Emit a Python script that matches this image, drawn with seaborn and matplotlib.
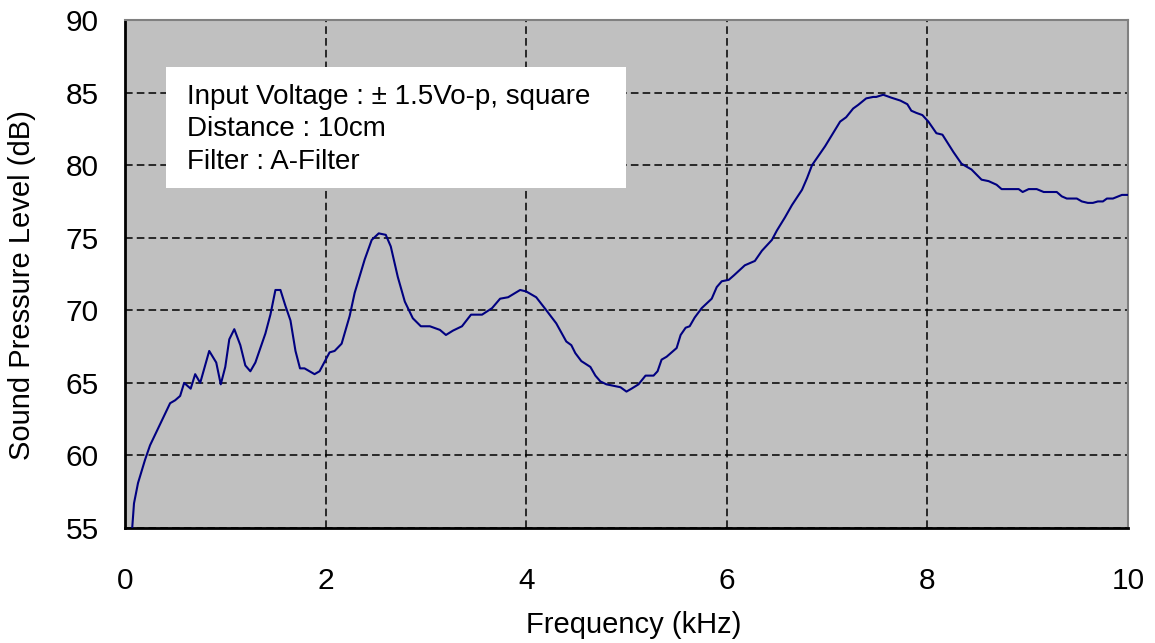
import matplotlib
matplotlib.use("Agg")
import pandas as pd
import seaborn as sns
import matplotlib.pyplot as plt
from matplotlib.patches import Rectangle

# frequency response
freq_khz = [0.07, 0.09, 0.13, 0.20, 0.25, 0.45, 0.50, 0.55, 0.59, 0.655, 0.70, 0.75,
            0.84, 0.91, 0.955, 1.00, 1.04, 1.09, 1.15, 1.20, 1.25, 1.30, 1.40, 1.45,
            1.50, 1.55, 1.60, 1.65, 1.70, 1.745, 1.79, 1.89, 1.94, 2.04, 2.09, 2.16,
            2.24, 2.29, 2.39, 2.46, 2.53, 2.60, 2.65, 2.72, 2.79, 2.87, 2.95, 3.04,
            3.14, 3.20, 3.27, 3.36, 3.45, 3.56, 3.66, 3.74, 3.82, 3.94, 4.00, 4.10,
            4.19, 4.30, 4.40, 4.45, 4.49, 4.55, 4.64, 4.69, 4.74, 4.80, 4.87, 4.94,
            5.00, 5.05, 5.12, 5.19, 5.27, 5.31, 5.35, 5.40, 5.45, 5.50, 5.54, 5.59,
            5.63, 5.68, 5.75, 5.85, 5.90, 5.95, 6.02, 6.07, 6.18, 6.28, 6.35, 6.45,
            6.50, 6.58, 6.65, 6.75, 6.80, 6.85, 6.98, 7.05, 7.13, 7.19, 7.26, 7.31,
            7.39, 7.46, 7.49, 7.56, 7.64, 7.73, 7.80, 7.84, 7.89, 7.95, 8.01, 8.09,
            8.15, 8.26, 8.34, 8.44, 8.54, 8.61, 8.69, 8.74, 8.91, 8.95, 9.01, 9.09,
            9.16, 9.29, 9.34, 9.39, 9.49, 9.54, 9.60, 9.65, 9.70, 9.75, 9.79, 9.85,
            9.94, 10.0]
spl_db = [54.8, 56.7, 58.1, 59.7, 60.7, 63.6, 63.8, 64.1, 65.0, 64.6, 65.6, 65.0,
          67.2, 66.4, 64.9, 66.1, 68.0, 68.7, 67.6, 66.2, 65.8, 66.4, 68.4, 69.7,
          71.4, 71.4, 70.3, 69.3, 67.2, 66.0, 66.0, 65.6, 65.8, 67.1, 67.2, 67.7,
          69.6, 71.2, 73.5, 74.85, 75.3, 75.2, 74.4, 72.3, 70.6, 69.45, 68.9, 68.9,
          68.65, 68.3, 68.6, 68.9, 69.7, 69.7, 70.15, 70.8, 70.9, 71.4, 71.3, 70.9,
          70.1, 69.1, 67.85, 67.6, 67.05, 66.5, 66.1, 65.5, 65.1, 64.9, 64.8, 64.7,
          64.4, 64.6, 64.9, 65.5, 65.5, 65.8, 66.6, 66.8, 67.1, 67.4, 68.3, 68.8,
          68.9, 69.5, 70.15, 70.8, 71.6, 72.0, 72.1, 72.4, 73.1, 73.4, 74.1, 74.85,
          75.5, 76.4, 77.25, 78.3, 79.1, 80.0, 81.3, 82.1, 83.0, 83.3, 83.9, 84.15,
          84.6, 84.7, 84.7, 84.85, 84.65, 84.45, 84.2, 83.75, 83.6, 83.45, 83.0, 82.2,
          82.1, 80.9, 80.1, 79.7, 79.0, 78.9, 78.65, 78.35, 78.35, 78.15, 78.35, 78.35,
          78.15, 78.15, 77.85, 77.7, 77.7, 77.5, 77.4, 77.4, 77.5, 77.5, 77.7, 77.7,
          77.95, 77.95]

x_ticks = [0, 2, 4, 6, 8, 10]
y_ticks = [55, 60, 65, 70, 75, 80, 85, 90]
info_lines = ["Input Voltage : \u00b1 1.5Vo-p, square", "Distance : 10cm", "Filter : A-Filter"]

sns.set_style("white")
plt.rcParams["font.family"] = ["Liberation Sans", "DejaVu Sans"]
for key in ["text.color", "axes.labelcolor", "xtick.color", "ytick.color"]:
    plt.rcParams[key] = "black"

df = pd.DataFrame({"Frequency (kHz)": freq_khz, "SPL (dB)": spl_db})

fig = plt.figure(figsize=(11.55, 6.43), dpi=100)
ax = fig.add_axes([0.1082, 0.1788, 0.8684, 0.7901])
ax.set_facecolor("#c0c0c0")

sns.lineplot(data=df, x="Frequency (kHz)", y="SPL (dB)", color="#000080",
             linewidth=1.5, estimator=None, sort=False, ax=ax, zorder=4)

ax.set_xlim(0, 10)
ax.set_ylim(55, 90)
ax.set_xticks(x_ticks)
ax.set_yticks(y_ticks)
ax.grid(True, color="black", linestyle=(0, (5, 2.7)), linewidth=1.1)
ax.set_axisbelow(True)
ax.tick_params(axis="both", length=0, labelsize=21.5)
ax.tick_params(axis="x", pad=28)
ax.tick_params(axis="y", pad=19)

for side in ["left", "bottom"]:
    ax.spines[side].set_color("black")
    ax.spines[side].set_linewidth(2)
for side in ["top", "right"]:
    ax.spines[side].set_color("#808080")
    ax.spines[side].set_linewidth(1.5)

ax.set_xlabel("Frequency (kHz)", fontsize=21)
ax.set_ylabel("Sound Pressure Level (dB)", fontsize=21)
ax.xaxis.set_label_coords(0.507, -0.163)
ax.yaxis.set_label_coords(-0.089, 0.478)

# info box
ax.add_patch(Rectangle((0.041, 0.669), 0.459, 0.238, transform=ax.transAxes,
                       facecolor="white", edgecolor="none", zorder=3))
for yy, line in zip([0.848, 0.785, 0.720], info_lines):
    ax.text(0.062, yy, line, transform=ax.transAxes, fontsize=20,
            va="center", ha="left", zorder=5)

fig.savefig("out.png", dpi=100)
